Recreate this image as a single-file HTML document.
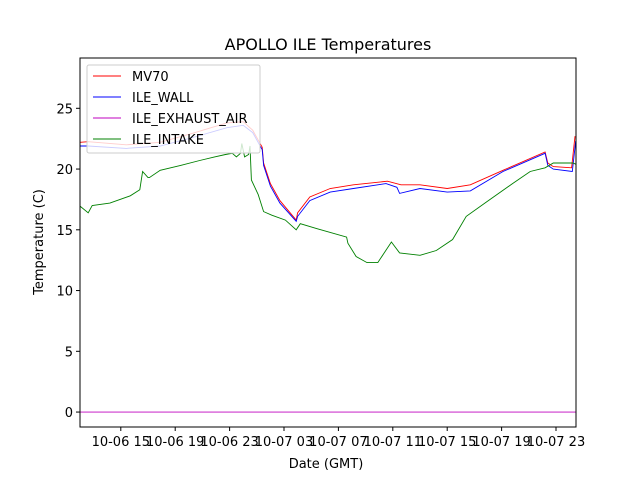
<!DOCTYPE html>
<html><head><meta charset="utf-8"><style>
body{margin:0;background:#fff}
svg text{font-family:"DejaVu Sans","Liberation Sans",sans-serif;fill:#000}
</style></head><body>
<svg id="chart" width="640" height="480" viewBox="0 0 640 480">
<rect width="640" height="480" fill="#fff"/>
<text x="328" y="50" font-size="16" text-anchor="middle">APOLLO ILE Temperatures</text>
<text x="326" y="468" font-size="13" text-anchor="middle">Date (GMT)</text>
<text transform="translate(43,242) rotate(-90)" font-size="13" text-anchor="middle">Temperature (C)</text>
<g id="plot"></g>
</svg>
<script>
const xTickHours=[15,19,23,27,31,35,39,43,47];
const xTickLabels=["10-06 15","10-06 19","10-06 23","10-07 03","10-07 07","10-07 11","10-07 15","10-07 19","10-07 23"];
const yTicks=[0,5,10,15,20,25];
const mv70Hours=[12,12.6,15.4,17.9,20.3,22.8,24.0,24.7,25.4,25.5,26.0,26.7,27.9,28.0,28.9,30.4,32.1,34.6,35.6,37.0,39.0,40.7,43.1,46.2,46.4,46.8,48.15,48.4];
const mv70Values=[22.2,22.25,22.0,22.2,22.95,23.8,23.9,23.2,21.8,20.5,18.8,17.4,15.8,16.4,17.7,18.4,18.7,19.0,18.7,18.7,18.4,18.7,19.9,21.4,20.5,20.2,20.1,22.7];
const wallHours=[12,12.6,15.4,17.9,20.3,22.8,24.0,24.7,25.4,25.5,26.0,26.7,27.9,28.0,28.9,30.4,32.1,34.5,35.3,35.5,37.0,39.0,40.7,43.1,46.2,46.4,46.8,48.2,48.45];
const wallValues=[21.9,21.9,21.7,21.9,22.6,23.4,23.6,23.0,21.6,20.3,18.6,17.2,15.7,16.1,17.4,18.1,18.4,18.8,18.5,18.0,18.4,18.1,18.2,19.8,21.3,20.3,20.0,19.8,22.3];
const intakeHours=[12,12.6,12.9,14.2,15.7,16.4,16.6,17.0,17.1,17.9,19.4,20.8,21.9,22.7,23.2,23.5,23.8,23.9,24.1,24.4,24.5,24.6,25.1,25.5,26.1,27.1,27.9,28.2,29.4,31.6,31.7,32.3,33.1,33.9,34.9,35.5,37.0,38.2,39.4,40.4,41.9,43.8,45.1,46.2,46.8,48.25,48.45];
const intakeValues=[16.95,16.4,17.0,17.2,17.8,18.3,19.8,19.3,19.3,19.9,20.3,20.7,21.0,21.2,21.3,21.0,21.3,22.1,21.0,21.2,21.9,19.1,17.9,16.5,16.2,15.8,15.0,15.5,15.1,14.4,13.9,12.8,12.3,12.3,14.0,13.1,12.9,13.3,14.2,16.1,17.3,18.8,19.8,20.1,20.5,20.5,20.4];
const exhaustHours=[12,48.45];
const exhaustValues=[0,0];

const L=80,R=576,T=58,B=427;
const xMin=12,xMax=48.47,yMin=-1.23,yMax=29.14;
const sx=h=>L+(h-xMin)/(xMax-xMin)*(R-L);
const sy=v=>B-(v-yMin)/(yMax-yMin)*(B-T);
const NS="http://www.w3.org/2000/svg";
const plot=document.getElementById('plot');
function mk(tag,attrs,parent){const e=document.createElementNS(NS,tag);for(const k in attrs)e.setAttribute(k,attrs[k]);(parent||plot).appendChild(e);return e;}
function line(hs,vs,color,name){
  const d=hs.map((h,i)=>(i?'L':'M')+sx(h).toFixed(1)+','+sy(vs[i]).toFixed(1)).join('');
  const p=mk('path',{d:d,fill:'none',stroke:color,'stroke-width':0.9});
  
  
}
line(mv70Hours,mv70Values,'#ff0000','mv70-line');
line(wallHours,wallValues,'#0000ff','ile-wall-line');
line(exhaustHours,exhaustValues,'#bf00bf','ile-exhaust-air-line');
line(intakeHours,intakeValues,'#008000','ile-intake-line');
const frame=mk('rect',{x:L,y:T,width:R-L,height:B-T,fill:'none',stroke:'#000','stroke-width':1});


xTickHours.forEach((h,i)=>{
  const x=sx(h);
  const t=mk('line',{x1:x,x2:x,y1:B,y2:B+4,stroke:'#000'});
  
  
  const tx=mk('text',{x:x,y:B+19,'font-size':13,'text-anchor':'middle'});
  tx.textContent=xTickLabels[i];
  
  
});
yTicks.forEach(v=>{
  const y=sy(v);
  const t=mk('line',{x1:L-4,x2:L,y1:y,y2:y,stroke:'#000'});
  
  
  const tx=mk('text',{x:L-7,y:y+5,'font-size':13,'text-anchor':'end'});
  tx.textContent=v;
  
  
});
const lg=mk('g',{});


mk('rect',{x:87,y:65,width:173,height:88,rx:2,fill:'#fff','fill-opacity':0.8,stroke:'#ccc'},lg);
const names=['MV70','ILE_WALL','ILE_EXHAUST_AIR','ILE_INTAKE'];
const cols=['#ff0000','#0000ff','#bf00bf','#008000'];
names.forEach((n,i)=>{
  const y=76+i*21;
  const l=mk('line',{x1:93,x2:121,y1:y,y2:y,stroke:cols[i],'stroke-width':0.9},lg);
  
  
  const t=mk('text',{x:132,y:y+5,'font-size':13},lg);
  t.textContent=n;
  
  
});
</script>
</body></html>
